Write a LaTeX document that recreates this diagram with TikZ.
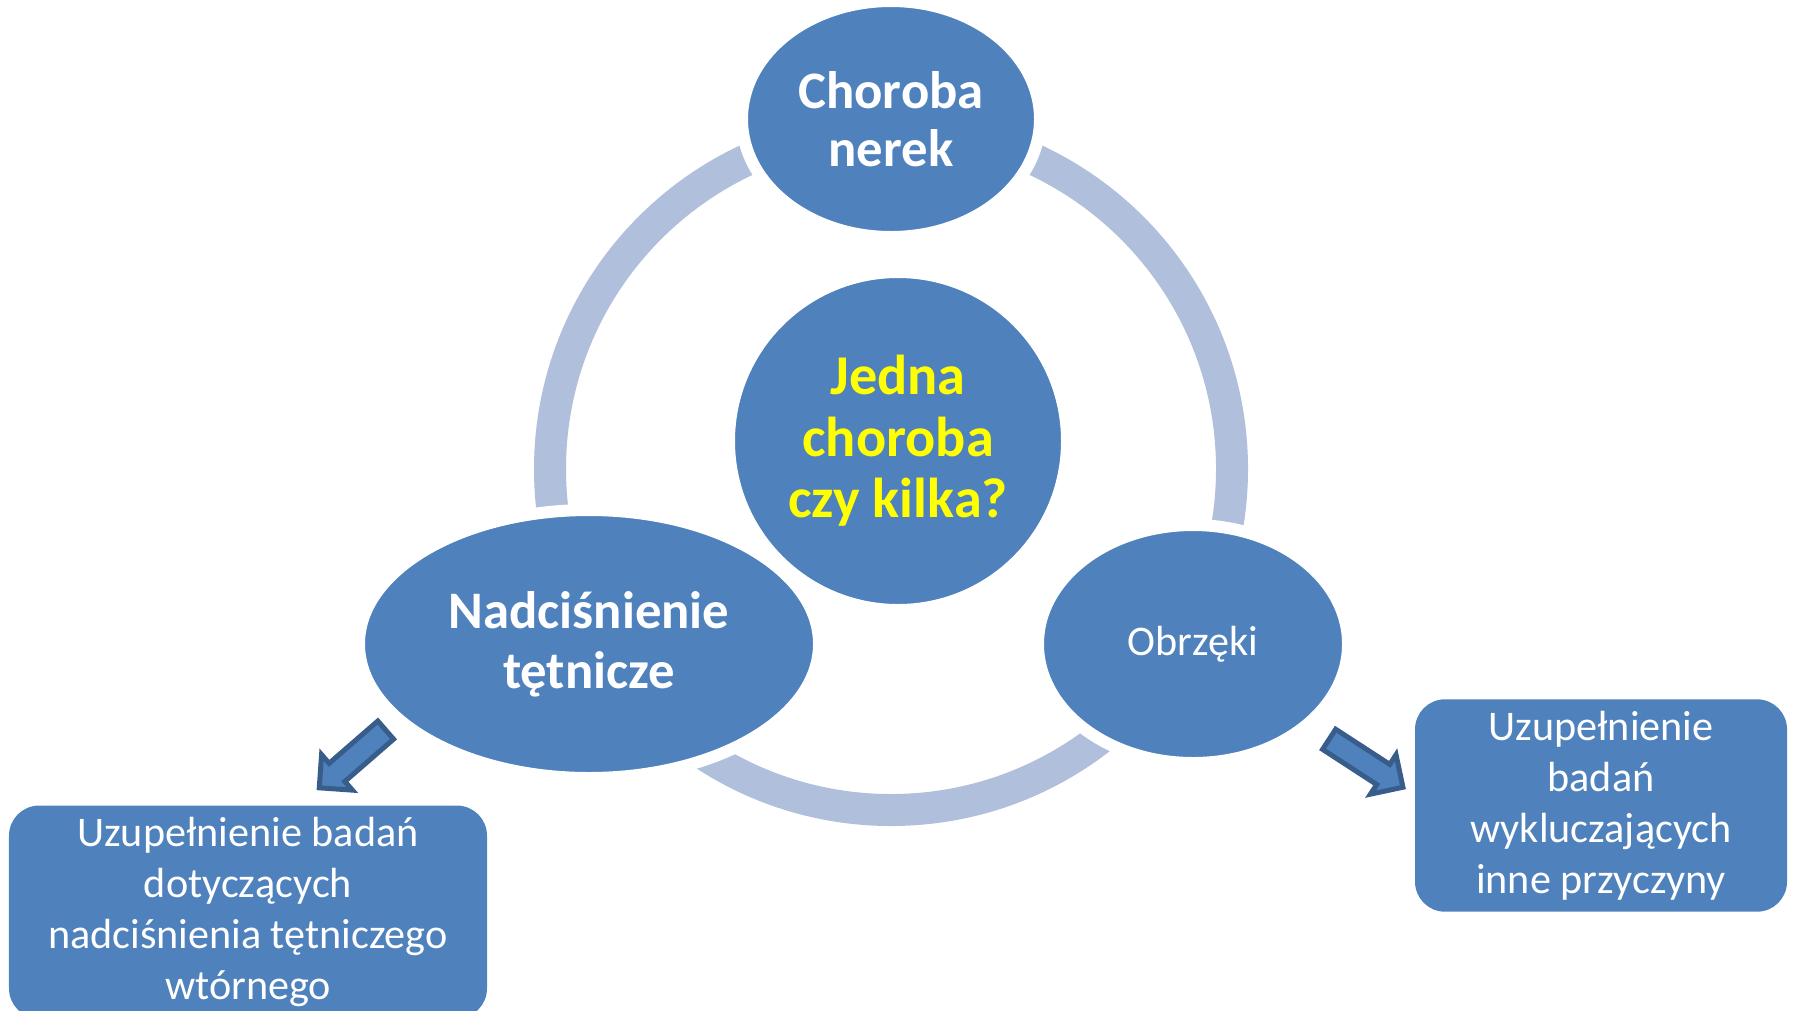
\documentclass[tikz,border=0pt]{standalone}
\usepackage{fontspec}
\setmainfont{Carlito}
\usetikzlibrary{shapes,arrows,positioning}
\definecolor{niebieski}{RGB}{79,129,189}
\definecolor{ciemny}{RGB}{56,93,138}
\definecolor{pierscien}{RGB}{176,191,219}
\definecolor{zolty}{RGB}{255,255,0}

\begin{document}
\begin{tikzpicture}[node distance=3cm,
            wezel/.style={ellipse, fill=niebieski, draw=white, line width=0.12cm, text=white, align=center, inner sep=0pt},
            ramka/.style={rectangle, rounded corners=0.3cm, fill=niebieski, text=white, align=center, font=\fontsize{12}{14.5}\selectfont},
            strzalka/.style={single arrow, fill=niebieski, draw=ciemny, line width=0.05cm, minimum height=0.88cm, single arrow head extend=0.115cm, inner xsep=0pt, inner ysep=0.095cm}]
            
            \clip (0,0) rectangle (17.96,-10.10);
            
            % Pierscien
            \coordinate (srodek) at (8.91,-4.69);
            \draw[pierscien, line width=0.32cm] (srodek) circle (3.41cm);
            
            % Wezel glowny
            \node[wezel, minimum size=3.38cm, text=zolty, font=\bfseries\fontsize{16}{17.5}\selectfont] at (8.98,-4.41) (pytanie) {Jedna\\choroba\\czy kilka?};
            
            % Wezly na pierscieniu
            \node[wezel, minimum width=2.98cm, minimum height=2.36cm, font=\bfseries\fontsize{15}{16.5}\selectfont, above of=pytanie, xshift=-0.07cm, yshift=0.22cm] (nerki) {Choroba\\nerek};
            \node[wezel, minimum width=4.60cm, minimum height=2.68cm, font=\bfseries\fontsize{15}{17}\selectfont, left of=pytanie, xshift=-0.09cm, yshift=-2.03cm] (nadcisnienie) {Nadciśnienie\\tętnicze};
            \node[wezel, minimum width=3.10cm, minimum height=2.38cm, font=\fontsize{12}{14.5}\selectfont, right of=pytanie, xshift=-0.05cm, yshift=-2.03cm] (obrzeki) {Obrzęki};
            
            % Ramki z badaniami
            \node[ramka, minimum width=4.78cm, minimum height=2.10cm, left of=nadcisnienie, xshift=-0.41cm, yshift=-2.68cm] (badaniaL) {Uzupełnienie badań\\dotyczących\\nadciśnienia tętniczego\\wtórnego};
            \node[ramka, minimum width=3.72cm, minimum height=2.05cm, right of=obrzeki, xshift=1.08cm, yshift=-1.615cm] (badaniaP) {Uzupełnienie\\badań\\wykluczających\\inne przyczyny};
            
            % Strzalki
            \node[strzalka, rotate=221] at (3.57,-7.55) (strzalkaL) {};
            \node[strzalka, rotate=-33] at (13.61,-7.60) (strzalkaP) {};
            
        \end{tikzpicture}
\end{document}
